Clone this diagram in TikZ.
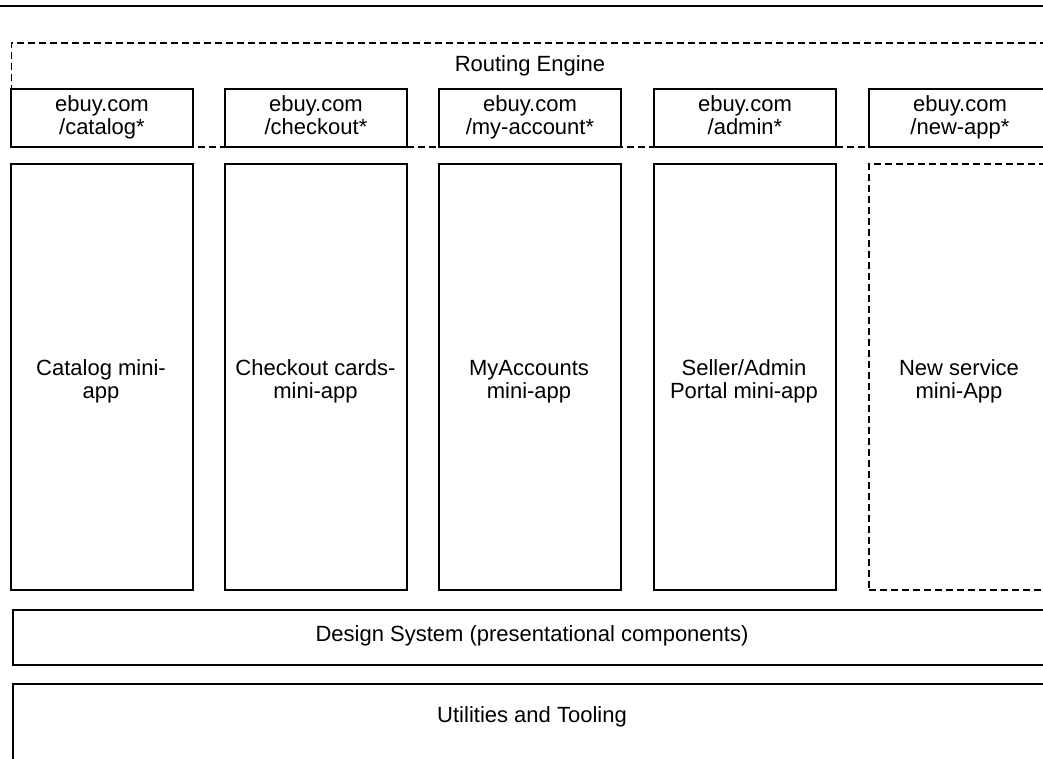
\documentclass[tikz,border=0pt]{standalone}
\usepackage{fontspec}
\setmainfont{Liberation Sans}
\begin{document}
\begin{tikzpicture}[x=1pt,y=-1pt,
  txt/.style={font=\fontsize{22}{23}\selectfont, text=black, align=center},
  box/.style={txt, draw=black, line width=1.9pt, fill=white, inner sep=0pt, anchor=north west},
  dashbox/.style={box, dash pattern=on 7pt off 4pt},
  route/.style={box, minimum width=182pt, minimum height=58pt},
  miniapp/.style={box, minimum width=182pt, minimum height=426pt},
  rule/.style={draw=black, line width=1.5pt}]
  \clip (0,0) rectangle (1043,758);
  \fill[white] (0,0) rectangle (1043,758);

  % header rule
  \coordinate (ruleL) at (0,6);
  \coordinate (ruleR) at (1043,6);
  \draw[rule] (ruleL) -- (ruleR);

  % routing engine frame
  \node[dashbox, minimum width=1060pt, minimum height=104pt] (router) at (10.5,42) {};
  \node[txt] (routerlbl) at (530,66) {Routing Engine};

  % route entries
  \node[route] (rcat)  at (10,88)  {ebuy.com\strut\\/catalog*\strut};
  \node[route] (rchk)  at (224,88) {ebuy.com\strut\\/checkout*\strut};
  \node[route] (racc)  at (438,88) {ebuy.com\strut\\/my-account*\strut};
  \node[route] (radm)  at (653,88) {ebuy.com\strut\\/admin*\strut};
  \node[route, minimum width=200pt] (rnew) at (868,88) {\hspace*{-18pt}ebuy.com\strut\\\hspace*{-18pt}/new-app*\strut};

  % mini-apps (labels sit slightly below the box centre)
  \node[miniapp] (mcat) at (10,163)  {};
  \node[miniapp] (mchk) at (224,163) {};
  \node[miniapp] (macc) at (438,163) {};
  \node[miniapp] (madm) at (653,163) {};
  \node[miniapp, dashbox, minimum width=200pt] (mnew) at (868,163) {};
  \node[txt] (mcatlbl) at (101,382)   {Catalog mini-\strut\\app\strut};
  \node[txt] (mchklbl) at (315.5,382) {Checkout cards-\strut\\mini-app\strut};
  \node[txt] (macclbl) at (529,382)   {MyAccounts\strut\\mini-app\strut};
  \node[txt] (madmlbl) at (744,382)   {Seller/Admin\strut\\Portal mini-app\strut};
  \node[txt] (mnewlbl) at (959,382)   {New service\strut\\mini-App\strut};

  % shared layers
  \node[box, minimum width=1060pt, minimum height=55pt] (design) at (12,609) {};
  \node[txt] (designlbl) at (532,636) {Design System (presentational components)};
  \node[box, minimum width=1060pt, minimum height=120pt] (utils) at (12,683) {};
  \node[txt] (utilslbl) at (532,717) {Utilities and Tooling};
\end{tikzpicture}
\end{document}
